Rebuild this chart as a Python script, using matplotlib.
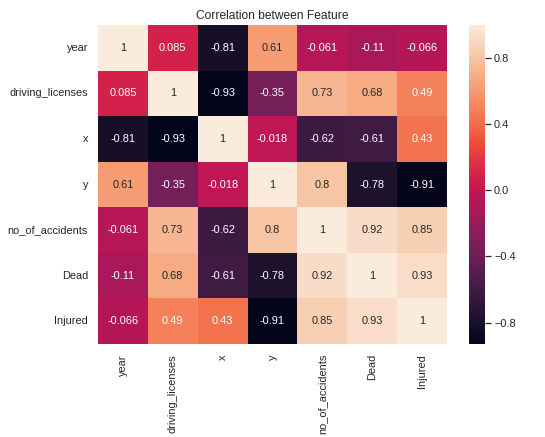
import numpy as np
import pandas as pd
import matplotlib
matplotlib.use("Agg")
import matplotlib.pyplot as plt
import seaborn as sns

features = ['year', 'driving_licenses', 'x', 'y', 'no_of_accidents', 'Dead', 'Injured']

corr_values = [
    [1, 0.085, -0.81, 0.61, -0.061, -0.11, -0.066],
    [0.085, 1, -0.93, -0.35, 0.73, 0.68, 0.49],
    [-0.81, -0.93, 1, -0.018, -0.62, -0.61, 0.43],
    [0.61, -0.35, -0.018, 1, 0.8, -0.78, -0.91],
    [-0.061, 0.73, -0.62, 0.8, 1, 0.92, 0.85],
    [-0.11, 0.68, -0.61, -0.78, 0.92, 1, 0.93],
    [-0.066, 0.49, 0.43, -0.91, 0.85, 0.93, 1],
]

corr = pd.DataFrame(corr_values, index=features, columns=features)

sns.set_theme(style='white')
plt.rcParams['font.family'] = ['Liberation Sans', 'DejaVu Sans']

fig = plt.figure(figsize=(545 / 72, 437 / 72), dpi=72)
ax = fig.add_axes([98 / 545, 1 - 344 / 437, 349 / 545, 319 / 437])
cax = fig.add_axes([469 / 545, 1 - 344 / 437, 16 / 545, 319 / 437])

sns.heatmap(corr, annot=True, ax=ax, cbar_ax=cax, annot_kws={'fontsize': 11})

ax.set_title('Correlation between Feature', fontsize=12, color='.15')
ax.tick_params(axis='both', length=0, labelsize=11, pad=10, labelcolor='.15')
plt.setp(ax.get_yticklabels(), rotation=0)
plt.setp(ax.get_xticklabels(), rotation=90)

cax.set_yticks([-0.8, -0.4, 0.0, 0.4, 0.8])
cax.tick_params(axis='y', length=6, width=1.25, labelsize=11, color='.15',
                labelcolor='.15', pad=3)

fig.savefig('out.png', dpi=72)
